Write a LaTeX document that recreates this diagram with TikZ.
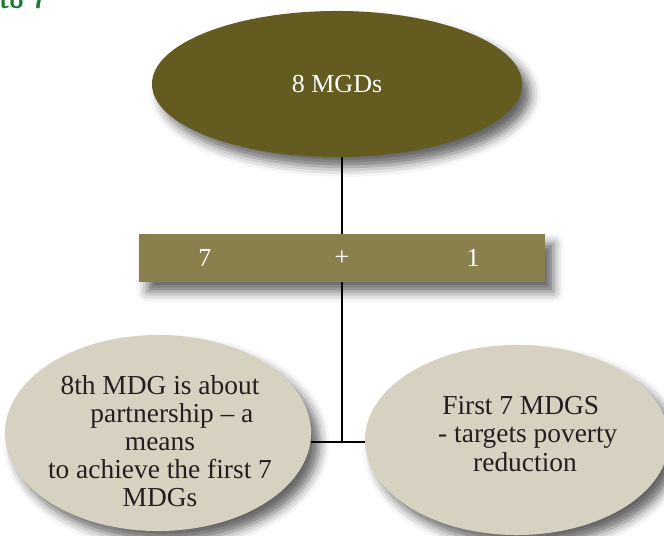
\documentclass[tikz,border=0pt]{standalone}
\usepackage{fontspec}
\setmainfont{Liberation Serif}
\usetikzlibrary{shapes.geometric,shadows.blur}

\definecolor{olivedark}{RGB}{99,91,32}
\definecolor{olivebar}{RGB}{138,128,78}
\definecolor{sandgoal}{RGB}{214,209,192}
\definecolor{inkgoal}{RGB}{35,31,32}
\definecolor{headgreen}{RGB}{30,122,58}

\tikzset{
  goalshadow/.style={blur shadow={shadow xshift=6pt,shadow yshift=-7pt,shadow blur radius=7pt,shadow opacity=60}},
  goalfont/.style={font=\fontsize{18.5}{20}\selectfont},
  groupfont/.style={font=\fontsize{19.5}{20}\selectfont,text=inkgoal,align=center}
}

\begin{document}
\begin{tikzpicture}[x=0.025cm,y=-0.025cm]
		\useasboundingbox (0,0) rectangle (664,536);
		%cut off heading above the chart
		\node[anchor=base west,inner sep=0pt,text=headgreen,font=\sffamily\bfseries\fontsize{18}{20}\selectfont] (head) at (-1,9) {to 7};

		%the whole set of goals
		\node[ellipse,fill=olivedark,goalshadow,goalfont,text=white,minimum width=9.25cm,minimum height=3.65cm] (total) at (337,84) {8 MGDs};

		%split bar
		\node[rectangle,fill=olivebar,goalshadow,minimum width=10.15cm,minimum height=1.2cm,inner sep=0pt] (bar) at (342,258) {};
		\node[goalfont,text=white] (seven) at (205,258) {7};
		\node[goalfont,text=white] (plus) at (342,258) {+};
		\node[goalfont,text=white] (one) at (473,258) {1};

		%the two groups
		\node[ellipse,fill=sandgoal,goalshadow,minimum width=7.65cm,minimum height=4.9cm,inner sep=0pt] (eighth) at (158,433) {};
		\node[ellipse,fill=sandgoal,goalshadow,minimum width=7.6cm,minimum height=4.75cm,inner sep=0pt] (firstseven) at (517,440) {};
		\node[groupfont] (eighthtext) at (160,441)
			{8th MDG is about\\ \hspace*{17pt}partnership -- a\\ means\\ to achieve the first 7\\ MDGs};
		\node[groupfont] (firstseventext) at (525,434)
			{\hspace*{-6pt}First 7 MDGS\\ \hspace*{4pt}- targets poverty\\ reduction};

		%connectors
		\coordinate (junction) at (342,442);
		\draw[thick] (bar.north) -- (bar.north |- total.south);
		\draw[thick] (bar.south) -- (junction);
		\draw[thick] (junction -| eighth.east) -- (junction -| firstseven.west);
	\end{tikzpicture}
\end{document}
